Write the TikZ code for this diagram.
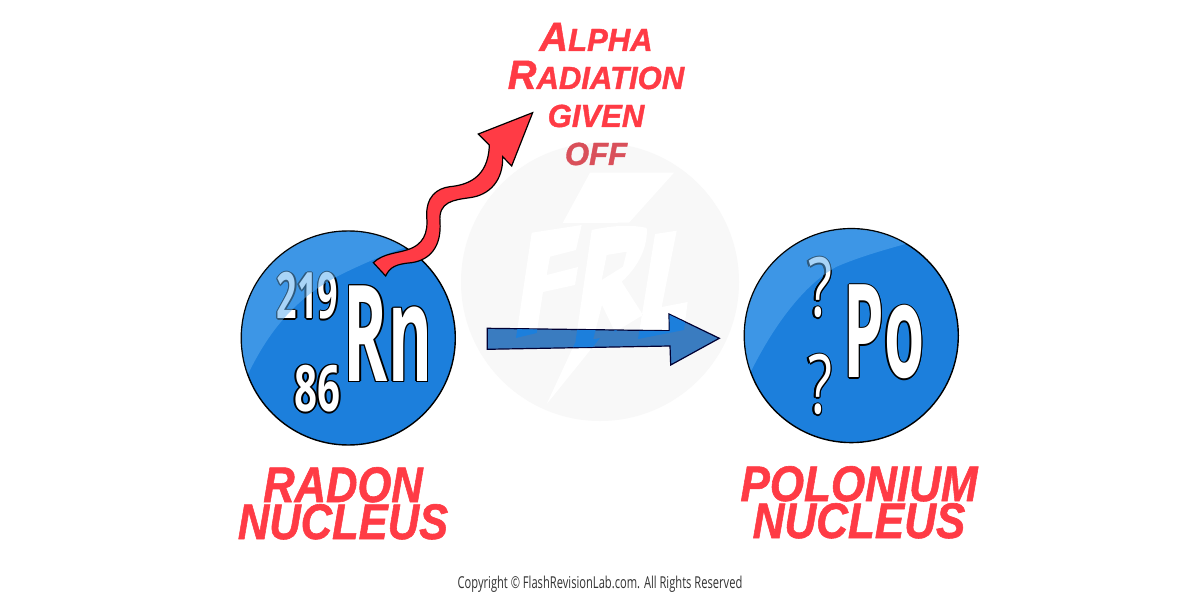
\documentclass[tikz,border=0pt]{standalone}
\usepackage{fontspec}
\setmainfont{Open Sans}
\newfontfamily\numfont{Open Sans Bold}
\newfontfamily\comicfont{Liberation Sans}[BoldItalicFont={Liberation Sans Bold Italic},FakeBold=1.2]
\definecolor{ballblue}{RGB}{28,127,220}
\definecolor{glare}{RGB}{92,173,240}
\definecolor{labelred}{RGB}{255,59,69}
\definecolor{fadedred}{RGB}{217,80,90}
\definecolor{markgray}{RGB}{248,248,248}
\definecolor{fadedblue}{RGB}{58,124,192}
\newcommand{\ghost}[3]{\rlap{\kern#1\raisebox{#2}{\color{black}#3}}}
\newcommand{\outlbody}[1]{%
 \ghost{1.3pt}{0pt}{#1}\ghost{-1.3pt}{0pt}{#1}\ghost{0pt}{.65pt}{#1}\ghost{0pt}{-.65pt}{#1}%
 \ghost{.95pt}{.45pt}{#1}\ghost{-.95pt}{.45pt}{#1}\ghost{.95pt}{-.45pt}{#1}\ghost{-.95pt}{-.45pt}{#1}%
 \color{white}#1}
\newcommand{\outl}[1]{{\numfont\outlbody{#1}}}
\newcommand{\outlr}[1]{{\outlbody{#1}}}
\newcommand{\capsm}[2]{{\fontsize{20.5}{20}\selectfont #1}{\fontsize{16}{20}\selectfont #2}}
\newcommand{\wmshapes}{
 (531.7,232.7) -- (581.7,225) -- (576,250) -- (550,256.7) -- (546.7,275) -- (578,267) -- (575,285) -- (543,292) -- (536.7,333) -- (516,338) -- cycle
 (591.7,230) .. controls (610,226) and (630,224) .. (646.7,228) .. controls (648,245) and (640,265) .. (621.7,281.7) -- (643,315) -- (615,332) -- (602,305) -- (593,340) -- (575,345) -- cycle
 (655,234) -- (676.7,230.7) -- (661.7,307) -- (687.7,302) -- (684,330) -- (638,339) -- cycle
 (590,172.7) -- (674,172.7) -- (629,222.7) -- (562.7,223) -- cycle
 (600,338) -- (546.7,404) -- (575,343) -- cycle}
\newcommand{\rcounter}{(606.7,255) -- (626.7,251.7) -- (623,266.7) -- (601.7,280) -- cycle}
\tikzset{
 ball/.style={circle,minimum size=107pt,inner sep=0pt,fill=ballblue,draw=black,line width=0.7pt},
 glarefill/.style={fill=glare,fill opacity=0.52},
 symb/.style={anchor=base,inner sep=0pt},
 redlabel/.style={anchor=base,inner sep=0pt,align=center,text=labelred},
 arrowline/.style={draw=black,line width=0.6pt,line join=miter}
}
\begin{document}
\begin{tikzpicture}[x=0.5pt,y=-0.5pt]
\useasboundingbox (0,0) rectangle (1200,593);
\fill[white] (0,0) rectangle (1200,593);
% watermark
\node[circle,minimum size=139pt,inner sep=0pt,fill=markgray] (mark) at (600,282) {};
\fill[white,even odd rule] \wmshapes \rcounter;
% balls
\node[ball] (rn) at (348.3,338) {};
\node[ball] (po) at (851.3,335.6) {};
% symbols
\node[symb,xscale=.5,font=\fontsize{67}{67}\selectfont] (rnsym) at (388,381.7) {\outl{Rn}};
\node[symb,xscale=.56,font=\fontsize{32}{33}\selectfont] (rnmass) at (307.5,319) {\outl{219}};
\node[symb,xscale=.63,font=\fontsize{32}{33}\selectfont] (rnatom) at (317.5,411.7) {\outl{86}};
\node[symb,xscale=.5,font=\fontsize{65}{65}\selectfont] (posym) at (884,378) {\outl{Po}};
\node[symb,xscale=.68,font=\fontsize{41}{41}\selectfont] (pomass) at (820,317) {\outlr{?}};
\node[symb,xscale=.68,font=\fontsize{41}{41}\selectfont] (poatom) at (820,414) {\outlr{?}};
% glare
\begin{scope}
 \clip (rn.center) circle (106.5);
 \fill[glarefill,shift={(220,90)},scale=1/3] (0,900) -- (85,850) .. controls (130,760) and (200,640) .. (350,560) .. controls (430,520) and (500,490) .. (620,450) -- (620,380) -- (0,380) -- cycle;
\end{scope}
\begin{scope}
 \clip (po.center) circle (106.5);
 \fill[glarefill,shift={(720,230)},scale=1/3] (50,470) -- (95,420) .. controls (150,310) and (240,170) .. (350,110) .. controls (420,80) and (490,60) .. (600,30) -- (600,-30) -- (50,-30) -- cycle;
\end{scope}
% wavy red arrow
\draw[arrowline,fill=labelred,shift={(220,90)},scale=1/3]
 (460,518) .. controls (490,490) and (530,490) .. (560,480) .. controls (610,465) and (625,430) .. (620,380)
 .. controls (618,320) and (650,295) .. (690,290) .. controls (740,285) and (805,265) .. (808,165)
 -- (775,132) -- (938,68) -- (875,228) -- (848,200)
 .. controls (850,270) and (810,315) .. (750,323) .. controls (700,330) and (655,335) .. (660,395)
 .. controls (665,470) and (630,510) .. (575,518) .. controls (530,522) and (510,530) .. (497,558) -- cycle;
% block arrow
\filldraw[arrowline,fill=fadedblue,draw=black!80!blue] (487.3,328.3) -- (669.3,330.7) -- (669,314) -- (719.3,338.3) -- (670.7,365) -- (670,346) -- (487.3,349.3) -- cycle;
\begin{scope}
 \clip (487.6,328.8) -- (669.6,331.2) -- (669.5,315) -- (718.3,338.3) -- (671.2,364) -- (670.5,345.5) -- (487.6,348.8) -- cycle;
 \fill[ballblue] \wmshapes;
\end{scope}
% labels
\node[redlabel,xscale=.87,font=\comicfont\bfseries\itshape\fontsize{25}{18.5}\selectfont] (rnlabel) at (343,539) {RADON\\NUCLEUS};
\node[redlabel,xscale=.88,font=\comicfont\bfseries\itshape\fontsize{25}{18.5}\selectfont] (polabel) at (859,538) {POLONIUM\\NUCLEUS};
\node[redlabel,xscale=.97,font=\comicfont\bfseries\itshape\fontsize{16}{19}\selectfont] (alpha) at (596,165) {\capsm{A}{LPHA}\\\capsm{R}{ADIATION}\\GIVEN\\\textcolor{fadedred}{OFF}};
\node[symb,xscale=.68,text=black!80,font=\fontsize{8.2}{10}\selectfont] (copy) at (600,588) {Copyright © FlashRevisionLab.com. All Rights Reserved};
\end{tikzpicture}
\end{document}
